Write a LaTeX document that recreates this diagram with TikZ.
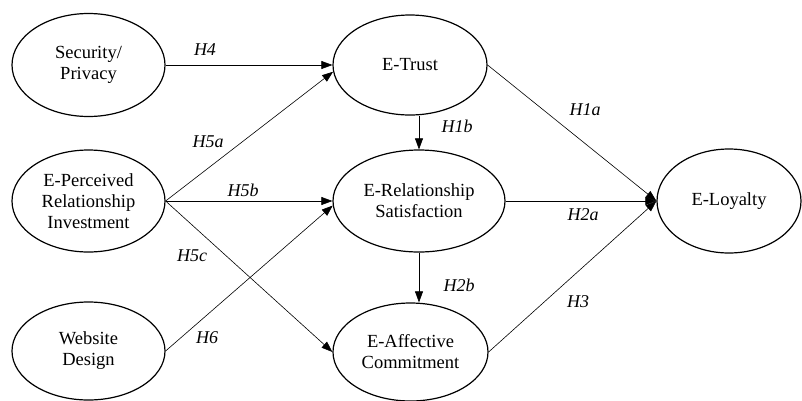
\documentclass[tikz,border=0pt]{standalone}
\usepackage{fontspec}
\setmainfont{Liberation Serif}
\newfontfamily\tnr{Liberation Serif}
\usetikzlibrary{shapes.geometric,arrows.meta}
\begin{document}
\begin{tikzpicture}[x=1pt,y=-1pt,
  construct/.style={ellipse,draw,line width=1.2pt,inner sep=0pt,align=center,
    font=\tnr\fontsize{18.5}{21}\selectfont},
  link/.style={line width=0.6pt,-{Triangle[length=11pt,width=8pt]}},
  hyp/.style={font=\tnr\fontsize{18}{20}\selectfont\itshape,inner sep=0pt}]
\useasboundingbox (0,0) rectangle (802,400);
\node[construct,minimum width=153pt,minimum height=103pt] (sec) at (88.5,65) {Security/\\Privacy};
\node[construct,minimum width=153pt,minimum height=102pt] (per) at (88.5,201) {E-Perceived\\Relationship\\Investment};
\node[construct,minimum width=153pt,minimum height=98pt] (web) at (88.5,351) {Website\\Design};
\node[construct,minimum width=154pt,minimum height=100pt] (trust) at (410,65) {E-Trust};
\node[construct,minimum width=172pt,minimum height=102pt] (rs) at (419,201) {E-Relationship\\Satisfaction};
\node[construct,minimum width=155pt,minimum height=98pt] (aff) at (410.5,352) {E-Affective\\Commitment};
\node[construct,minimum width=144pt,minimum height=104pt] (loy) at (729,201) {E-Loyalty};

\draw[link] (sec.east) -- (trust.west);
\draw[link] (per.east) -- (trust.185);
\draw[link] (per.east) -- (rs.west);
\draw[link] (per.east) -- (aff.west);
\draw[link] (web.east) -- (rs.183);
\draw[link] (trust.east) -- (loy.west);
\draw[link] (rs.east) -- (loy.west);
\draw[link] (aff.east) -- (loy.west);
\draw[link] (rs.north |- trust.south) -- (rs.north);
\draw[link] (rs.south) -- (rs.south |- aff.north);

\node[hyp] (h4) at (205,50) {H4};
\node[hyp] (h5a) at (208,142) {H5a};
\node[hyp] (h5b) at (243,190) {H5b};
\node[hyp] (h5c) at (192,256) {H5c};
\node[hyp] (h6) at (207,338) {H6};
\node[hyp] (h1a) at (585,110) {H1a};
\node[hyp] (h1b) at (457,126) {H1b};
\node[hyp] (h2a) at (583,215) {H2a};
\node[hyp] (h2b) at (459,285) {H2b};
\node[hyp] (h3) at (578,302) {H3};
\end{tikzpicture}
\end{document}
